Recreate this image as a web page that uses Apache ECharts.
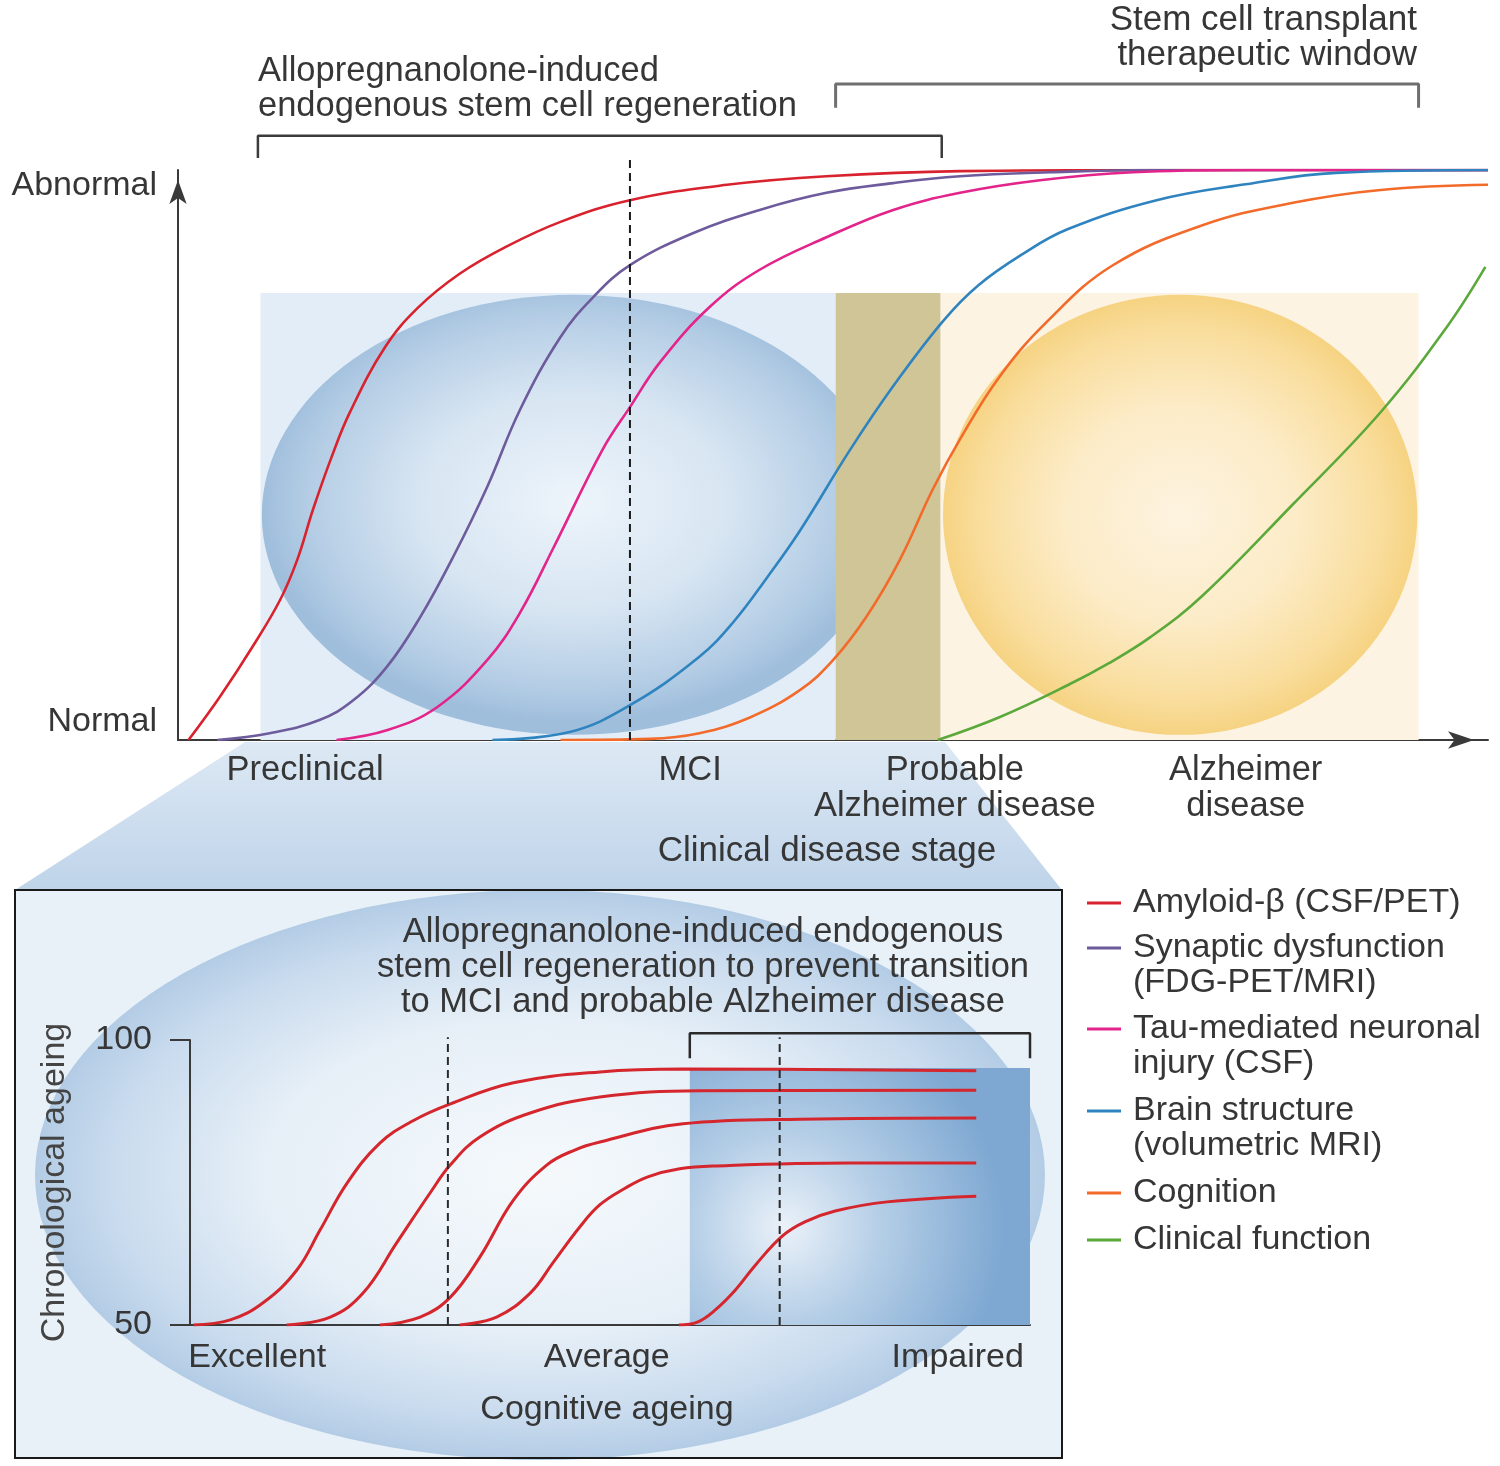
<!DOCTYPE html>
<html><head><meta charset="utf-8">
<script src="https://cdn.jsdelivr.net/npm/echarts@6/dist/echarts.min.js"></script>
<style>html,body{margin:0;padding:0;background:#fff}#c{width:1500px;height:1466px}</style>
</head><body><div id="c"></div>
<script>
// ===== Main panel: clinical disease stage (x 0-100) vs biomarker level (0 normal - 100 abnormal)
const seriesNames = ['Amyloid-β (CSF/PET)','Synaptic dysfunction (FDG-PET/MRI)','Tau-mediated neuronal injury (CSF)','Brain structure (volumetric MRI)','Cognition','Clinical function'];
const legendText = ['Amyloid-β (CSF/PET)','\nSynaptic dysfunction\n(FDG-PET/MRI)','\nTau-mediated neuronal\ninjury (CSF)','\nBrain structure\n(volumetric MRI)','Cognition','Clinical function'];
const amyloid = [[0.8,0],[3.2,7.6],[5.7,16.4],[7.8,24.6],[9.1,31.6],[10.3,40.4],[11.7,49.5],[13.1,57.4],[15.8,68.9],[18.3,75.8],[21.5,81.8],[25.1,86.6],[29.2,90.9],[34.5,94.7],[41.9,97.4],[49.5,98.9],[59.7,99.8],[74.2,100],[100,100]];
const synaptic = [[3.0,0],[7.0,1.2],[10.8,3.5],[13.4,7.0],[16.0,13.0],[18.5,21.6],[21.0,32.1],[23.6,44.4],[26.1,57.9],[29.2,70.7],[31.7,77.7],[34.5,83.3],[39.3,88.9],[44.4,93.0],[49.5,96.0],[54.6,97.7],[59.7,98.9],[66.6,99.6],[74.2,100],[100,100]];
const tau = [[12.1,0],[16.0,1.75],[19.8,5.8],[23.6,14.0],[26.1,22.3],[28.7,33.9],[32.4,50.9],[34.5,58.4],[36.8,66.3],[40.6,76.0],[44.4,82.5],[49.5,88.2],[54.6,93.0],[59.7,96.0],[65.8,98.2],[72.9,99.6],[81.8,100],[100,100]];
const brain = [[24.0,0],[29.9,1.4],[34.5,6.1],[39.8,14.6],[42.4,20.7],[45.0,28.6],[47.5,36.8],[51.3,50.9],[54.6,62.1],[58.4,73.5],[61.1,79.8],[64.5,85.3],[67.9,89.6],[74.7,94.7],[81.5,97.5],[88.4,99.5],[100,100]];
const cognition = [[29.2,0],[36.0,0.2],[39.8,1.2],[43.7,4.0],[47.5,8.8],[50.0,14.0],[52.6,21.8],[55.1,31.6],[57.6,43.9],[59.7,52.8],[62.7,63.7],[66.3,73.3],[71.3,83.2],[78.2,90.3],[85.0,94.2],[91.8,96.5],[100,97.4]];
const clinical = [[58.0,0],[62.7,4.0],[67.9,9.6],[71.0,13.4],[74.2,18.0],[78.2,25.3],[85.0,41.1],[91.8,57.5],[96.9,72.6],[99.8,83.0]];
const stagePos = [9.7, 39.1, 59.3, 81.5];
const stageLabels = ['Preclinical','MCI','Probable\nAlzheimer disease','Alzheimer\ndisease'];
const levelPos = [3.2, 97.2];
const levelLabels = ['Normal','Abnormal'];
const mciLine = [[34.5,0],[34.5,101.8]];
const regenBracket = [[6.1,102.1],[6.1,106],[58.3,106],[58.3,102.1]];
const transplantBracket = [[50.2,110.9],[50.2,115.1],[94.7,115.1],[94.7,110.9]];
// background zones [x0, x1, y0, y1]
const zoneRects = [[6.3,50.2,0,78.4],[58.2,94.7,0,78.4]];
const zoneBand = [[50.2,58.2,0,78.4]];
// ellipses [cx, cy, rx, ry]
const zoneEllipses = [[30.2,39.5,23.8,38.6],[76.5,39.5,18.1,38.6]];

// ===== Inset: cognitive ageing (x 0-100) vs chronological ageing (50-100)
const insetCurves = [
  [[0.4,50],[4.8,50.9],[8.7,53.9],[12.7,59.6],[15.5,66.7],[18.7,74.9],[22.6,81.9],[26.5,85.8],[31.0,88.8],[38.5,92.5],[48.8,94.4],[58.7,94.9],[93.6,94.6]],
  [[11.5,50],[16.7,51.4],[20.6,55.6],[24.6,64.4],[28.6,73.2],[31.0,78.1],[34.5,83.0],[40.5,87.2],[48.8,90.0],[60.7,91.1],[93.6,91.2]],
  [[22.6,50],[27.4,51.4],[31.0,54.9],[34.5,61.9],[38.5,71.9],[42.5,78.1],[45.8,80.7],[48.8,82.1],[58.7,85.3],[72.6,86.1],[93.6,86.3]],
  [[32.1,50],[36.5,51.4],[40.5,55.6],[43.2,60.9],[46.4,67.2],[48.8,71.1],[51.8,74.0],[54.5,76.0],[58.3,77.4],[62.7,77.9],[78.6,78.4],[93.6,78.4]],
  [[58.2,50],[60.4,50.5],[62.5,52.6],[64.9,56.1],[67.3,60.5],[70.5,65.6],[73.2,68.1],[76.8,70.0],[83.0,71.6],[93.6,72.6]]
];
const insetDash1 = [[30.7,50],[30.7,100.5]];
const insetDash2 = [[70.2,50],[70.2,100.5]];
const insetBracket = [[59.5,96.8],[59.5,101.2],[100,101.2],[100,96.8]];
const insetZone = [[59.5,100,50,95.1]];
const cogPos = [8.0, 49.6, 91.4];
const cogLabels = ['Excellent','Average','Impaired'];

const FONT = 'Liberation Sans';
const TXT = '#363636';
const colors = ['#d8232f','#6d5b9c','#e2248b','#2f84bf','#f26b2b','#5ba83b'];
const legendTops = [885.5, 895.5, 976.5, 1058.5, 1175.5, 1222.5];

const chart = echarts.init(document.getElementById('c'), null, {renderer:'canvas'});

function pick(pos, labels){
  return function(v){ const i = pos.findIndex(p => Math.abs(p - v) < 1e-6); return i >= 0 ? labels[i] : ''; };
}
function rectItem(fills){
  return function(params, api){
    const p0 = api.coord([api.value(0), api.value(3)]);
    const p1 = api.coord([api.value(1), api.value(2)]);
    return {type:'rect', shape:{x:p0[0], y:p0[1], width:p1[0]-p0[0], height:p1[1]-p0[1]}, style:{fill: fills[params.dataIndex]}};
  };
}
const ellFills = [
  new echarts.graphic.RadialGradient(0.5,0.47,0.5,[{offset:0,color:'#edf4fb'},{offset:0.5,color:'#d7e5f2'},{offset:0.85,color:'#b4cde5'},{offset:1,color:'#9fbedc'}]),
  new echarts.graphic.RadialGradient(0.5,0.5,0.5,[{offset:0,color:'#fdf3e0'},{offset:0.5,color:'#fcebc6'},{offset:0.85,color:'#f9dd9c'},{offset:1,color:'#f6d382'}])
];

const series = [
  {type:'custom', name:'zones', xAxisIndex:0, yAxisIndex:0, silent:true, z:1, data: zoneRects,
   renderItem: rectItem(['#e3edf7','#fdf3e2'])},
  {type:'custom', name:'ellipses', xAxisIndex:0, yAxisIndex:0, silent:true, z:1, data: zoneEllipses,
   renderItem: function(params, api){
     const c = api.coord([api.value(0), api.value(1)]);
     const s = api.size([api.value(2), api.value(3)]);
     return {type:'circle', x:c[0], y:c[1], scaleX: s[0]/s[1], scaleY:1,
       shape:{cx:0, cy:0, r:s[1]}, style:{fill: ellFills[params.dataIndex]}};
   }},
  {type:'custom', name:'band', xAxisIndex:0, yAxisIndex:0, silent:true, z:1, data: zoneBand,
   renderItem: rectItem(['#cfc597'])},
  {type:'custom', name:'insetZone', xAxisIndex:1, yAxisIndex:1, silent:true, z:1, data: insetZone,
   renderItem: rectItem([new echarts.graphic.RadialGradient(0.28,0.62,0.85,[{offset:0,color:'#eaf1f9'},{offset:0.45,color:'#b3cde6'},{offset:1,color:'#7ea8d2'}])])}
];
const curves = [amyloid, synaptic, tau, brain, cognition, clinical];
curves.forEach((d,i) => series.push({
  type:'line', name: seriesNames[i], xAxisIndex:0, yAxisIndex:0, data:d, smooth:0.4,
  showSymbol:false, symbol:'none', z:5, lineStyle:{color:colors[i], width:2.6}, itemStyle:{color:colors[i]}
}));
function helper(data, xi, color, width, type){
  return {type:'line', xAxisIndex:xi, yAxisIndex:xi, data, clip:false, silent:true, showSymbol:false, symbol:'none', z:6,
    lineStyle:{color, width, type: type || 'solid'}};
}
series.push(helper(mciLine,0,'#1a1a1a',2,[8,5]));
series.push(helper(regenBracket,0,'#3c3c3c',2.5));
series.push(helper(transplantBracket,0,'#6f6f6f',3));
insetCurves.forEach(d => series.push({type:'line', xAxisIndex:1, yAxisIndex:1, data:d, smooth:0.4,
  showSymbol:false, symbol:'none', silent:true, z:5, lineStyle:{color:'#d4262c', width:3}}));
series.push(helper(insetDash1,1,'#2a2a2a',2,[8,5]));
series.push(helper(insetDash2,1,'#2a2a2a',2,[8,5]));
series.push(helper(insetBracket,1,'#2a2a2a',2.5));

const legends = seriesNames.map((name,i) => ({
  orient:'vertical', left:1087, top: legendTops[i], padding:0, itemWidth:34, itemHeight:3, icon:'rect',
  selectedMode:false,
  data:[{name, textStyle:{padding:[0,0,0,7]}}],
  formatter: () => legendText[i],
  textStyle:{fontSize:34, lineHeight:35, color:TXT, fontFamily:FONT}
}));

const option = {
  animation:false,
  backgroundColor:'#ffffff',
  textStyle:{fontFamily:FONT},
  grid:[
    {left:178, top:170, width:1310, height:570, outerBoundsMode:'none'},
    {left:190, top:1040, width:840, height:285, outerBoundsMode:'none'}
  ],
  xAxis:[
    {type:'value', gridIndex:0, min:0, max:100, splitLine:{show:false}, axisTick:{show:false},
     axisLine:{lineStyle:{color:'#3a3a3a', width:2}, symbol:['none','arrow'], symbolSize:[13,26], symbolOffset:[0,-14]},
     axisLabel:{customValues: stagePos, formatter: pick(stagePos, stageLabels), fontSize:34.5, lineHeight:36, color:TXT, margin:12, hideOverlap:false},
     name:'Clinical disease stage', nameLocation:'middle', nameGap:94, nameTextStyle:{fontSize:35, color:TXT, padding:[0,12,0,0]}},
    {type:'value', gridIndex:1, min:0, max:100, splitLine:{show:false}, axisTick:{show:false},
     axisLine:{lineStyle:{color:'#3a3a3a', width:2}},
     axisLabel:{customValues: cogPos, formatter: pick(cogPos, cogLabels), fontSize:34, color:TXT, margin:16, hideOverlap:false},
     name:'Cognitive ageing', nameLocation:'middle', nameGap:68, nameTextStyle:{fontSize:34, color:TXT, padding:[0,6,0,0]}}
  ],
  yAxis:[
    {type:'value', gridIndex:0, min:0, max:100, splitLine:{show:false}, axisTick:{show:false},
     axisLine:{lineStyle:{color:'#3a3a3a', width:2}, symbol:['none','arrow'], symbolSize:[13,24], symbolOffset:[0,-10]},
     axisLabel:{customValues: levelPos, formatter: pick(levelPos, levelLabels), fontSize:34, color:TXT, margin:21, hideOverlap:false}},
    {type:'value', gridIndex:1, min:50, max:100, interval:50, splitLine:{show:false},
     axisTick:{show:true, length:20, lineStyle:{color:'#3a3a3a', width:2}},
     axisLine:{show:true, lineStyle:{color:'#3a3a3a', width:2}},
     axisLabel:{fontSize:34, color:TXT, margin:38},
     name:'Chronological ageing', nameLocation:'middle', nameGap:118, nameTextStyle:{fontSize:34, color:'#444'}}
  ],
  legend: legends,
  graphic:[
    {type:'polygon', z:-1, silent:true, shape:{points:[[245,742],[945,742],[1062,890],[15,890]]},
     style:{fill:{type:'linear',x:0,y:0,x2:0,y2:1,colorStops:[{offset:0,color:'#dde9f4'},{offset:0.6,color:'#cbdcee'},{offset:1,color:'#bfd4e9'}]}}},
    {type:'rect', z:-1, silent:true, shape:{x:15,y:890,width:1047,height:568}, style:{fill:'#e9f1f8'}},
    {type:'circle', z:-1, silent:true, x:540, y:1175, scaleX:505/285, scaleY:1, shape:{cx:0,cy:0,r:285},
     style:{fill:{type:'radial',x:0.5,y:0.5,r:0.5,colorStops:[{offset:0,color:'#f5f9fc'},{offset:0.55,color:'#e6eff7'},{offset:0.85,color:'#c9dbee'},{offset:1,color:'#b3cce5'}]}}},
    {type:'rect', z:-1, silent:true, shape:{x:15,y:890,width:1047,height:568}, style:{fill:null, stroke:'#1a1a1a', lineWidth:2}},
    {type:'text', z:10, x:258, y:53.5, style:{text:'Allopregnanolone-induced\nendogenous stem cell regeneration', font:'34.5px "Liberation Sans"', lineHeight:35, fill:TXT, align:'left', verticalAlign:'top'}},
    {type:'text', z:10, x:1417, y:2.5, style:{text:'Stem cell transplant\ntherapeutic window', font:'35px "Liberation Sans"', lineHeight:35, fill:TXT, align:'right', verticalAlign:'top'}},
    {type:'text', z:10, x:703, y:914.5, style:{text:'Allopregnanolone-induced endogenous\nstem cell regeneration to prevent transition\nto MCI and probable Alzheimer disease', font:'34.5px "Liberation Sans"', lineHeight:35, fill:TXT, align:'center', verticalAlign:'top'}}
  ],
  series
};
chart.setOption(option);
</script>
</body></html>
